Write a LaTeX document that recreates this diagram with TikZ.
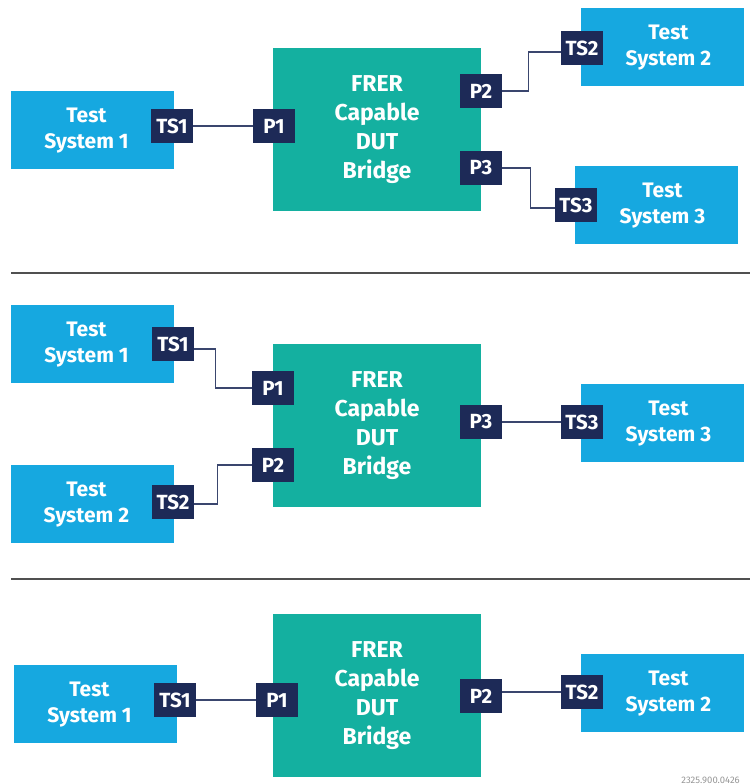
\documentclass[tikz,border=0pt]{standalone}
\usepackage{fontspec}
\setmainfont{Fira Sans}
\definecolor{lblue}{RGB}{22,168,224}
\definecolor{tealc}{RGB}{20,176,160}
\definecolor{navy}{RGB}{29,42,87}
\definecolor{wirec}{RGB}{58,70,110}
\definecolor{sepc}{RGB}{80,80,80}
\definecolor{footc}{RGB}{150,150,150}
\tikzset{
  sysbox/.style={fill=lblue, draw=none, minimum width=163pt, minimum height=78pt, inner sep=0pt},
  dutbox/.style={fill=tealc, draw=none, minimum width=208pt, minimum height=163pt, inner sep=0pt,
    text=white, align=center, font=\fontsize{23}{29}\selectfont\bfseries},
  port/.style={fill=navy, draw=none, minimum width=42pt, minimum height=34pt, inner sep=0pt,
    text=white, font=\fontsize{20.5}{24}\selectfont\bfseries},
  systxt/.style={text=white, align=center, inner sep=0pt, font=\fontsize{21}{26}\selectfont\bfseries},
  wire/.style={draw=wirec, line width=1.3pt},
  sepline/.style={draw=sepc, line width=1.6pt},
}
\begin{document}
\begin{tikzpicture}[x=1pt,y=-1pt]
\useasboundingbox (0,0) rectangle (750,784);
% ---------------- Panel 1 ----------------
\node[sysbox] (sysA1) at (92.5,130) {};
\node[sysbox] (sysA2) at (662.5,47) {};
\node[sysbox] (sysA3) at (656.5,205) {};
\node[systxt] (tA1) at ([xshift=-6pt,yshift=-1pt]sysA1.center) {Test\\System 1};
\node[systxt] (tA2) at ([xshift=6pt,yshift=-1pt]sysA2.center) {Test\\System 2};
\node[systxt] (tA3) at ([xshift=6pt,yshift=-1pt]sysA3.center) {Test\\System 3};
\node[dutbox] (dutA) at (377,129.5) {FRER\\Capable\\DUT\\Bridge};
\node[port] (tsA1) at (172,126) {TS1};
\node[port] (pA1) at (274,126) {P1};
\node[port] (pA2) at (481,91) {P2};
\node[port] (pA3) at (481,168) {P3};
\node[port] (tsA2) at (582,48) {TS2};
\node[port] (tsA3) at (576,205) {TS3};
\draw[wire] (tsA1.east) -- (pA1.west);
\draw[wire] (pA2.east) -- ++(26,0) |- ([yshift=-4pt]tsA2.west);
\draw[wire] (pA3.east) -- ++(28,0) |- ([yshift=-3pt]tsA3.west);
% separator 1
\coordinate (s1a) at (11,273);
\coordinate (s1b) at (750,273);
\draw[sepline] (s1a) -- (s1b);
% ---------------- Panel 2 ----------------
\node[sysbox] (sysB1) at (92.5,344) {};
\node[sysbox] (sysB2) at (92.5,504) {};
\node[sysbox] (sysB3) at (662.5,423) {};
\node[systxt] (tB1) at ([xshift=-6pt,yshift=-1pt]sysB1.center) {Test\\System 1};
\node[systxt] (tB2) at ([xshift=-6pt,yshift=-1pt]sysB2.center) {Test\\System 2};
\node[systxt] (tB3) at ([xshift=6pt,yshift=-1pt]sysB3.center) {Test\\System 3};
\node[dutbox] (dutB) at (377,425.5) {FRER\\Capable\\DUT\\Bridge};
\node[port] (tsB1) at (173,344) {TS1};
\node[port] (tsB2) at (173,502) {TS2};
\node[port] (pB1) at (273,388) {P1};
\node[port] (pB2) at (273,465) {P2};
\node[port] (pB3) at (481,422) {P3};
\node[port] (tsB3) at (582,422) {TS3};
\draw[wire] ([yshift=-5pt]tsB1.east) -- ++(21,0) |- (pB1.west);
\draw[wire] ([yshift=-2pt]tsB2.east) -- ++(23,0) |- (pB2.west);
\draw[wire] (pB3.east) -- (tsB3.west);
% separator 2
\coordinate (s2a) at (11,579);
\coordinate (s2b) at (750,579);
\draw[sepline] (s2a) -- (s2b);
% ---------------- Panel 3 ----------------
\node[sysbox] (sysC1) at (95.5,704) {};
\node[sysbox] (sysC2) at (662.5,693) {};
\node[systxt] (tC1) at ([xshift=-6pt,yshift=-1pt]sysC1.center) {Test\\System 1};
\node[systxt] (tC2) at ([xshift=6pt,yshift=-1pt]sysC2.center) {Test\\System 2};
\node[dutbox] (dutC) at (377,695.5) {FRER\\Capable\\DUT\\Bridge};
\node[port] (tsC1) at (175,700) {TS1};
\node[port] (pC1) at (277,700) {P1};
\node[port] (pC2) at (481,696) {P2};
\node[port] (tsC2) at (582,692) {TS2};
\draw[wire] (tsC1.east) -- (pC1.west);
\draw[wire] ([yshift=4pt]pC2.east) -- (tsC2.west);
% footer
\node[anchor=base east, inner sep=0pt, text=footc, font=\fontsize{9.5}{10}\selectfont] (fig) at (740,783) {2325.900.0426};
\end{tikzpicture}
\end{document}
